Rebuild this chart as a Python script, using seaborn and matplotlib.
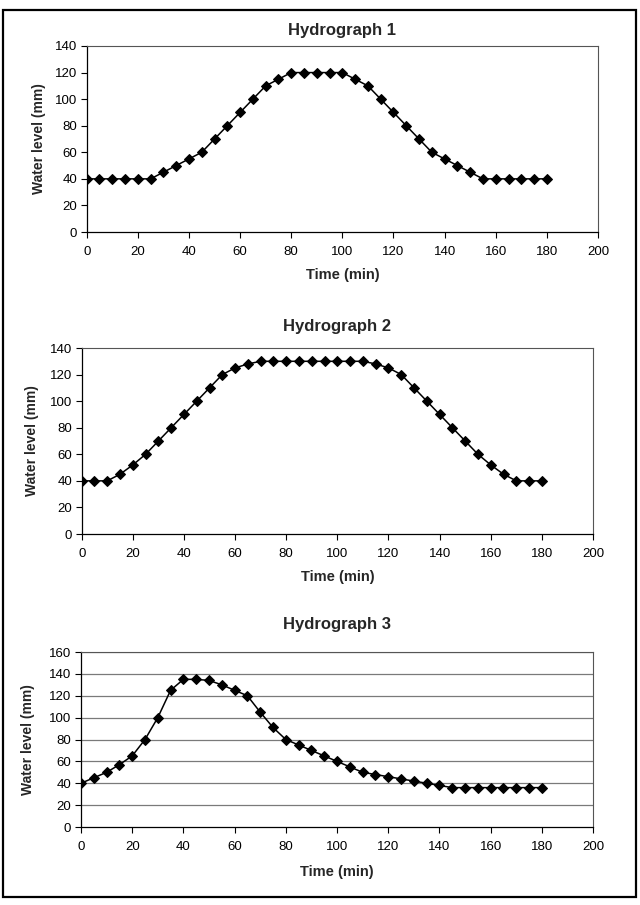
import matplotlib
matplotlib.use("Agg")
import matplotlib.pyplot as plt
from matplotlib.patches import Rectangle
import pandas as pd
import seaborn as sns

# data (water level in mm every 5 minutes)
time_min = [0, 5, 10, 15, 20, 25, 30, 35, 40, 45, 50, 55, 60, 65, 70, 75, 80, 85, 90,
            95, 100, 105, 110, 115, 120, 125, 130, 135, 140, 145, 150, 155, 160, 165,
            170, 175, 180]
level_1 = [40, 40, 40, 40, 40, 40, 45, 50, 55, 60, 70, 80, 90, 100, 110, 115, 120, 120,
           120, 120, 120, 115, 110, 100, 90, 80, 70, 60, 55, 50, 45, 40, 40, 40, 40, 40, 40]
level_2 = [40, 40, 40, 45, 52, 60, 70, 80, 90, 100, 110, 120, 125, 128, 130, 130, 130,
           130, 130, 130, 130, 130, 130, 128, 125, 120, 110, 100, 90, 80, 70, 60, 52, 45,
           40, 40, 40]
level_3 = [40, 45, 50, 57, 65, 80, 100, 125, 135, 135, 134, 130, 125, 120, 105, 91, 80,
           75, 70, 65, 60, 55, 50, 48, 46, 44, 42, 40, 38, 36, 36, 36, 36, 36, 36, 36, 36]

titles = ["Hydrograph 1", "Hydrograph 2", "Hydrograph 3"]
x_ticks = [0, 20, 40, 60, 80, 100, 120, 140, 160, 180, 200]

sns.set_style("white")
plt.rcParams['font.family'] = ['Liberation Sans', 'DejaVu Sans']

W, H = 640, 905
fig = plt.figure(figsize=(W / 100, H / 100), dpi=100)


def px_axes(left, top, right, bottom):
    return fig.add_axes([left / W, 1 - bottom / H, (right - left) / W, (bottom - top) / H])


# panel boxes in pixels: left, top, right, bottom
boxes = [(86.7, 46, 598, 232), (81.7, 348, 593, 534), (81, 652, 593, 827)]
ylims = [(0, 140), (0, 140), (0, 160)]
series = [level_1, level_2, level_3]
title_y = [30, 326, 624]
xlabel_y = [275, 577, 872]
ylabel_x = [39, 32, 28]

for i in range(3):
    ax = px_axes(*boxes[i])
    df = pd.DataFrame({'time': time_min, 'level': series[i]})
    if i == 2:
        for yv in range(20, 161, 20):
            ax.axhline(yv, color='#7a7a7a', lw=0.9, zorder=0)
    sns.lineplot(data=df, x='time', y='level', ax=ax, color='black', lw=1.1,
                 marker='D', markersize=5.5, markeredgecolor='black', markerfacecolor='black')
    ax.set_xlim(0, 200)
    ax.set_ylim(*ylims[i])
    ax.set_xticks(x_ticks)
    ax.set_yticks(range(0, ylims[i][1] + 1, 20))
    ax.set_xlabel('')
    ax.set_ylabel('')
    ax.tick_params(axis='x', direction='out', length=4, width=0.8, pad=6,
                   labelsize=9.5, bottom=True, colors='black')
    ax.tick_params(axis='y', direction='out', length=4, width=0.8, pad=3,
                   labelsize=9.5, left=True, colors='black')
    for side in ['left', 'bottom']:
        ax.spines[side].set_color('black')
        ax.spines[side].set_linewidth(0.9)
    for side in ['top', 'right']:
        ax.spines[side].set_color('#555555')
        ax.spines[side].set_linewidth(0.8)

    l, t, r, b = boxes[i]
    cx = (l + r) / 2 / W
    fig.text(cx, 1 - title_y[i] / H, titles[i], ha='center', va='center',
             fontsize=12, fontweight='bold')
    fig.text(cx, 1 - xlabel_y[i] / H, 'Time (min)', ha='center', va='center',
             fontsize=10.5, fontweight='bold')
    fig.text(ylabel_x[i] / W, 1 - (t + b) / 2 / H, 'Water level (mm)', ha='center',
             va='center', rotation=90, fontsize=10, fontweight='bold')

# outer frame around the whole figure
fig.add_artist(Rectangle((3 / W, 1 - 897 / H), 633 / W, 887 / H, transform=fig.transFigure,
                         fill=False, edgecolor='black', lw=1.6))

fig.savefig('out.png', dpi=100, facecolor='white')
